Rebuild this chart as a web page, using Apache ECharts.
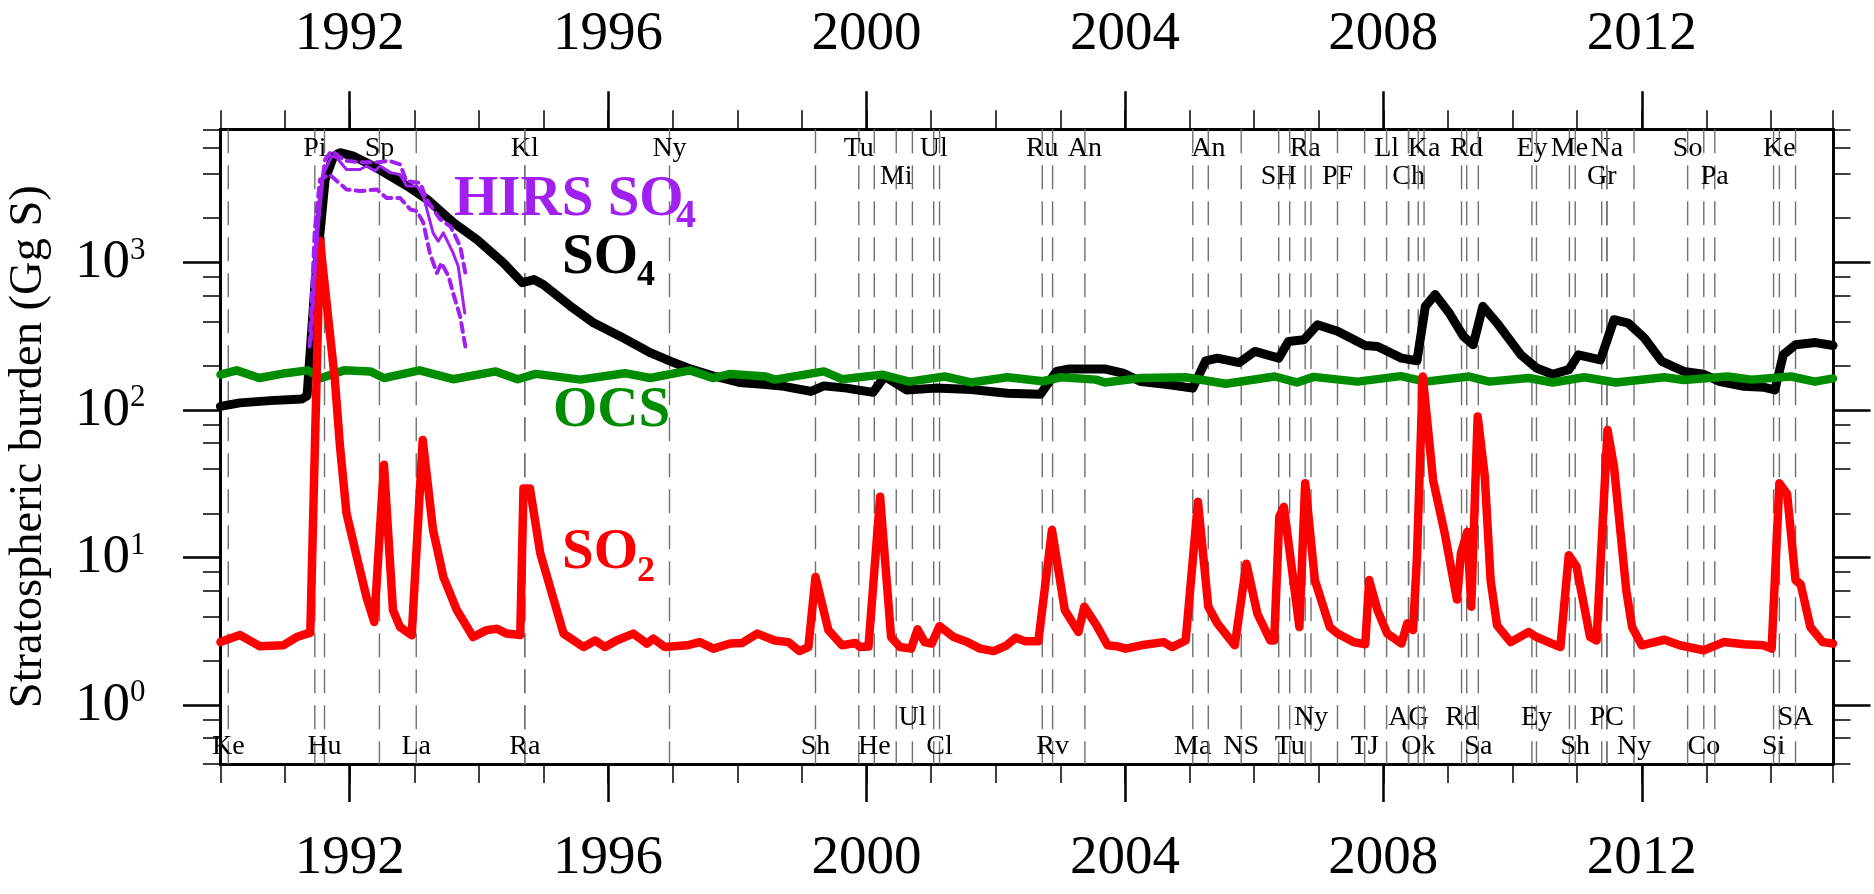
<!DOCTYPE html>
<html>
<head>
<meta charset="utf-8">
<script src="https://cdn.jsdelivr.net/npm/echarts@6/dist/echarts.min.js"></script>
<style>
  html, body { margin: 0; padding: 0; background: #fff; }
  #chart { width: 1874px; height: 894px; }
</style>
</head>
<body>
<div id="chart"></div>
<script>
// ---- Stratospheric sulfur burdens (Gg S), decimal year vs value ----
const so4Year = [1990.00, 1990.30, 1990.77, 1991.26, 1991.34, 1991.46, 1991.54, 1991.62, 1991.75, 1991.85,
  1992.06, 1992.37, 1992.89, 1993.20, 1993.61, 1993.97, 1994.38, 1994.67, 1994.85, 1995.00,
  1995.42, 1995.78, 1996.19, 1996.66, 1996.97, 1997.23, 1997.62, 1998.03, 1998.44, 1998.72,
  1999.14, 1999.34, 1999.69, 2000.10, 2000.28, 2000.62, 2001.07, 2001.62, 2002.18, 2002.69,
  2002.94, 2003.14, 2003.70, 2003.97, 2004.25, 2004.66, 2005.05, 2005.25, 2005.43, 2005.77,
  2006.01, 2006.38, 2006.53, 2006.77, 2006.98, 2007.29, 2007.72, 2007.91, 2008.28, 2008.52,
  2008.65, 2008.80, 2009.02, 2009.24, 2009.39, 2009.54, 2009.76, 2010.13, 2010.37, 2010.62,
  2010.87, 2011.02, 2011.36, 2011.57, 2011.79, 2012.04, 2012.31, 2012.65, 2012.96, 2013.21,
  2013.58, 2013.88, 2014.06, 2014.19, 2014.38, 2014.69, 2014.96];
const so4Val = [106, 112, 116, 119, 125, 690, 1590, 3660, 5260, 5550,
  5260, 4500, 3300, 2680, 1860, 1430, 995, 730, 767, 708,
  505, 389, 316, 244, 214, 193, 171, 154, 149, 145,
  134, 146, 141, 132, 169, 137, 141, 138, 130, 128,
  183, 190, 190, 178, 156, 149, 141, 216, 225, 210,
  250, 225, 292, 300, 379, 342, 274, 270, 225, 216,
  505, 607, 455, 316, 277, 505, 389, 237, 193, 175,
  188, 237, 219, 410, 389, 308, 214, 183, 175, 156,
  145, 143, 137, 237, 277, 287, 274];

const ocsYear = [1990.00, 1990.25, 1990.60, 1991.01, 1991.35, 1991.56, 1991.91, 1992.32, 1992.53, 1993.08,
  1993.60, 1994.26, 1994.60, 1994.88, 1995.57, 1996.26, 1996.65, 1997.27, 1997.62, 1997.89,
  1998.44, 1998.58, 1999.34, 1999.62, 2000.24, 2000.66, 2001.21, 2001.62, 2002.18, 2002.73,
  2003.01, 2003.55, 2003.69, 2004.25, 2004.94, 2005.56, 2006.32, 2006.66, 2006.92, 2007.60,
  2008.27, 2008.65, 2009.33, 2009.64, 2010.25, 2010.62, 2011.11, 2011.60, 2012.35, 2012.65,
  2013.33, 2013.70, 2014.31, 2014.68, 2014.96];
const ocsVal = [174, 186, 165, 178, 186, 165, 186, 183, 165, 186,
  162, 183, 162, 176, 161, 178, 165, 186, 165, 176,
  169, 161, 183, 162, 174, 156, 169, 154, 167, 157,
  167, 161, 154, 165, 167, 151, 169, 154, 168, 156,
  170, 156, 169, 156, 165, 154, 167, 154, 167, 160,
  169, 161, 169, 156, 164];

const so2Year = [1990.00, 1990.30, 1990.61, 1990.97, 1991.18, 1991.34, 1991.39, 1991.54, 1991.77, 1991.85,
  1991.95, 1992.11, 1992.26, 1992.38, 1992.53, 1992.67, 1992.78, 1992.96, 1993.13, 1993.29,
  1993.45, 1993.66, 1993.91, 1994.12, 1994.28, 1994.43, 1994.64, 1994.69, 1994.79, 1994.95,
  1995.31, 1995.62, 1995.80, 1995.95, 1996.13, 1996.39, 1996.60, 1996.70, 1996.88, 1997.22,
  1997.42, 1997.63, 1997.89, 1998.07, 1998.31, 1998.58, 1998.79, 1998.96, 1999.10, 1999.21,
  1999.41, 1999.62, 1999.83, 1999.90, 2000.03, 2000.21, 2000.38, 2000.52, 2000.69, 2000.79,
  2000.90, 2001.01, 2001.13, 2001.35, 2001.56, 2001.76, 2001.97, 2002.17, 2002.31, 2002.45,
  2002.66, 2002.87, 2003.07, 2003.28, 2003.37, 2003.56, 2003.73, 2003.90, 2004.01, 2004.25,
  2004.60, 2004.73, 2004.94, 2005.13, 2005.29, 2005.43, 2005.70, 2005.88, 2006.05, 2006.25,
  2006.31, 2006.39, 2006.46, 2006.70, 2006.79, 2006.94, 2007.17, 2007.29, 2007.54, 2007.72,
  2007.78, 2007.91, 2008.06, 2008.28, 2008.37, 2008.46, 2008.52, 2008.61, 2008.77, 2008.95,
  2009.14, 2009.20, 2009.30, 2009.36, 2009.46, 2009.57, 2009.66, 2009.76, 2009.97, 2010.25,
  2010.37, 2010.74, 2010.87, 2010.99, 2011.20, 2011.30, 2011.47, 2011.57, 2011.76, 2011.85,
  2012.00, 2012.10, 2012.35, 2012.59, 2012.96, 2013.27, 2013.58, 2013.88, 2014.01, 2014.13,
  2014.25, 2014.38, 2014.46, 2014.61, 2014.80, 2014.96];
const so2Val = [2.68, 2.99, 2.51, 2.55, 2.9, 3.06, 3.1, 1400, 161, 56.6,
  20, 10.1, 5.4, 3.67, 42.6, 4.41, 3.39, 2.98, 62.8, 15.4,
  7.4, 4.4, 2.9, 3.23, 3.3, 3.06, 2.99, 29.5, 29.5, 10.7,
  3.06, 2.48, 2.75, 2.48, 2.75, 3.06, 2.62, 2.83, 2.48, 2.55,
  2.68, 2.42, 2.62, 2.64, 3.06, 2.75, 2.68, 2.33, 2.48, 7.4,
  3.23, 2.55, 2.64, 2.48, 2.5, 25.9, 2.9, 2.48, 2.42, 3.27,
  2.68, 2.62, 3.44, 2.9, 2.68, 2.42, 2.33, 2.55, 2.87, 2.72,
  2.72, 15.4, 4.4, 3.14, 4.66, 3.48, 2.55, 2.5, 2.42, 2.55,
  2.68, 2.48, 2.75, 23.9, 4.66, 3.59, 2.55, 9.1, 4.17, 2.75,
  2.75, 19, 22.1, 3.39, 32, 7.05, 3.39, 3.06, 2.68, 2.59,
  7.05, 4.4, 3.06, 2.62, 3.59, 3.23, 10.1, 169, 33.6, 14.6,
  5.2, 10.7, 15, 4.66, 90.6, 35.5, 7.05, 3.48, 2.68, 3.14,
  2.9, 2.48, 10.4, 8.7, 2.9, 2.75, 73.5, 41.4, 6.0, 3.39,
  2.55, 2.62, 2.78, 2.55, 2.36, 2.68, 2.59, 2.55, 2.42, 32,
  27, 7.05, 6.6, 3.39, 2.68, 2.62];

// HIRS satellite sulfate estimate (central) and its upper / lower bounds
const hirsYear = [1991.40, 1991.51, 1991.59, 1991.72, 1991.80, 1991.95, 1992.16, 1992.26, 1992.39, 1992.47,
  1992.62, 1992.78, 1992.88, 1993.04, 1993.14, 1993.29, 1993.37, 1993.45, 1993.60, 1993.68, 1993.78];
const hirsVal = [361, 1675, 3950, 5270, 5130, 4270, 4270, 4510, 4170, 4510,
  4070, 3950, 3300, 3300, 2820, 1590, 1395, 1590, 1162, 944, 456];
const hirsHiYear = [1991.40, 1991.50, 1991.62, 1991.72, 1991.93, 1992.19, 1992.45, 1992.60, 1992.78, 1992.88,
  1993.09, 1993.19, 1993.40, 1993.56, 1993.71, 1993.79];
const hirsHiVal = [300, 2000, 5000, 5710, 4900, 4780, 4780, 4900, 4620, 3560,
  3470, 2680, 1960, 1760, 1290, 850];
const hirsLoYear = [1991.38, 1991.46, 1991.54, 1991.69, 1991.95, 1992.16, 1992.42, 1992.57, 1992.78, 1992.94,
  1993.04, 1993.14, 1993.24, 1993.35, 1993.42, 1993.53, 1993.60, 1993.71, 1993.79];
const hirsLoVal = [270, 1675, 3660, 3950, 3130, 3050, 3130, 2740, 2740, 2290,
  2230, 1860, 1160, 850, 995, 807, 622, 431, 270];

// ---- Volcanic eruptions: date, short name, label row ----
const eruptionYear = [1990.12, 1991.46, 1991.61, 1992.46, 1993.03, 1994.71, 1994.71, 1996.95, 1999.21, 1999.88,
  2000.12, 2000.46, 2000.71, 2001.04, 2001.13, 2002.72, 2002.88, 2003.38, 2005.05, 2005.29,
  2005.80, 2006.38, 2006.55, 2006.79, 2006.88, 2007.29, 2007.71, 2008.05, 2008.39, 2008.39,
  2008.54, 2008.63, 2009.21, 2009.29, 2009.47, 2010.30, 2010.37, 2010.88, 2010.97, 2011.38,
  2011.46, 2011.46, 2011.88, 2012.71, 2012.96, 2013.13, 2014.04, 2014.13, 2014.38];
const eruptionName = ['Ke', 'Pi', 'Hu', 'Sp', 'La', 'Kl', 'Ra', 'Ny', 'Sh', 'Tu',
  'He', 'Mi', 'Ul', 'Ul', 'Cl', 'Ru', 'Rv', 'An', 'Ma', 'An',
  'NS', 'SH', 'Tu', 'Ra', 'Ny', 'PF', 'TJ', 'Ll', 'Ch', 'AG',
  'Ok', 'Ka', 'Rd', 'Rd', 'Sa', 'Ey', 'Ey', 'Me', 'Sh', 'Gr',
  'Na', 'PC', 'Ny', 'So', 'Co', 'Pa', 'Si', 'Ke', 'SA'];
// 'top1'/'top2' = first/second row under the top frame, 'bot1'/'bot2' = rows above the bottom frame
const eruptionRow = ['bot2', 'top1', 'bot2', 'top1', 'bot2', 'top1', 'bot2', 'top1', 'bot2', 'top1',
  'bot2', 'top2', 'bot1', 'top1', 'bot2', 'top1', 'bot2', 'top1', 'bot2', 'top1',
  'bot2', 'top2', 'bot2', 'top1', 'bot1', 'top2', 'bot2', 'top1', 'top2', 'bot1',
  'bot2', 'top1', 'bot1', 'top1', 'bot2', 'top1', 'bot1', 'top1', 'bot2', 'top2',
  'top1', 'bot1', 'bot2', 'top1', 'bot2', 'top2', 'bot2', 'top1', 'bot1'];

// ---- Axis ticks ----
const xLabelYears = [1992, 1996, 2000, 2004, 2008, 2012];
const yLabelExponents = [0, 1, 2, 3];
const yMinorMantissas = [2, 4, 6, 8];
const yLow = 0.4, yHigh = 8000;
const xFirst = 1990, xLast = 2014.96;

// ---- Build the chart ----
const SERIF = '"Liberation Serif", "Times New Roman", serif';
const lg = Math.log10;
const pairs = (xs, vs) => xs.map((x, i) => [x, lg(vs[i])]);

const yMin = lg(yLow), yMax = lg(yHigh);
const yMajor = yLabelExponents.slice();
const yMinor = [];
for (let n = -1; n <= 3; n++) {
  yMinorMantissas.forEach(m => {
    const v = lg(m) + n;
    if (v >= yMin - 1e-9 && v <= yMax + 1e-9) yMinor.push(Math.min(Math.max(v, yMin), yMax));
  });
}

const frameLine = { show: true, onZero: false, lineStyle: { color: '#000', width: 3 } };
const xBase = { type: 'value', min: xFirst, max: xLast, splitLine: { show: false }, axisLine: frameLine };
const yBase = { type: 'value', min: yMin, max: yMax, splitLine: { show: false }, axisLine: frameLine };
const yearLabel = {
  customValues: xLabelYears, margin: 67, fontSize: 55, lineHeight: 55,
  fontFamily: SERIF, color: '#000', formatter: v => String(Math.round(v))
};
const minorTickX = { show: true, length: 19, lineStyle: { color: '#000', width: 1.5 } };
const majorTickX = { show: true, customValues: xLabelYears, length: 38, lineStyle: { color: '#000', width: 2.5 } };
const majorTickY = { show: true, customValues: yMajor, length: 37.5, lineStyle: { color: '#000', width: 2.5 } };
const minorTickY = { show: true, customValues: yMinor, length: 17.5, lineStyle: { color: '#000', width: 1.5 } };

const rowOffset = { top1: 19, top2: 47, bot1: -46, bot2: -17.5 };

const lineSeries = (name, xs, vs, color, width, z, dash) => ({
  name, type: 'line', data: pairs(xs, vs), xAxisIndex: 0, yAxisIndex: 0,
  symbol: 'none', showSymbol: false, z, silent: true,
  lineStyle: { color, width, type: dash || 'solid', cap: 'round', join: 'round' }
});

const chart = echarts.init(document.getElementById('chart'), null, { renderer: 'canvas' });
chart.setOption({
  animation: false,
  backgroundColor: '#fff',
  grid: { left: 220.5, right: 41, top: 129.3, bottom: 130, containLabel: false, outerBoundsMode: 'none' },
  xAxis: [
    Object.assign({}, xBase, { position: 'bottom', interval: 1, axisTick: minorTickX, axisLabel: yearLabel }),
    Object.assign({}, xBase, { position: 'bottom', axisTick: majorTickX, axisLabel: { show: false } }),
    Object.assign({}, xBase, { position: 'top', interval: 1, axisTick: minorTickX, axisLabel: yearLabel }),
    Object.assign({}, xBase, { position: 'top', axisTick: majorTickX, axisLabel: { show: false } })
  ],
  yAxis: [
    Object.assign({}, yBase, {
      position: 'left', axisTick: majorTickY,
      name: 'Stratospheric burden (Gg S)', nameLocation: 'middle', nameRotate: 90, nameGap: 168,
      nameTextStyle: { fontFamily: SERIF, fontSize: 46.5, color: '#000' },
      axisLabel: {
        customValues: yMajor, margin: 75,
        formatter: v => '{b|10}{e|' + Math.round(v) + '}',
        rich: {
          b: { fontFamily: SERIF, fontSize: 55, lineHeight: 55, color: '#000', verticalAlign: 'bottom' },
          e: { fontFamily: SERIF, fontSize: 31, lineHeight: 38, color: '#000', verticalAlign: 'top' }
        }
      }
    }),
    Object.assign({}, yBase, { position: 'left', axisTick: minorTickY, axisLabel: { show: false } }),
    Object.assign({}, yBase, { position: 'right', axisTick: majorTickY, axisLabel: { show: false } }),
    Object.assign({}, yBase, { position: 'right', axisTick: minorTickY, axisLabel: { show: false } })
  ],
  series: [
    {
      type: 'custom', name: 'eruptions', coordinateSystem: 'cartesian2d', xAxisIndex: 0, yAxisIndex: 0,
      data: eruptionYear.map(y => [y, 0]), encode: { x: 0, y: 1 }, z: 1, silent: true, clip: false,
      renderItem: (params, api) => {
        const i = params.dataIndex;
        const cs = params.coordSys;
        const x = api.coord([api.value(0), 0])[0];
        const top = cs.y, bottom = cs.y + cs.height;
        const row = eruptionRow[i];
        const ty = (row.startsWith('top') ? top : bottom) + rowOffset[row];
        return {
          type: 'group',
          children: [
            { type: 'line', shape: { x1: x, y1: top, x2: x, y2: bottom },
              style: { stroke: '#707070', lineWidth: 1.4, lineDash: [24, 12] } },
            { type: 'text', x: x, y: ty,
              style: { text: eruptionName[i], fill: '#000', font: '28px ' + SERIF, align: 'center', verticalAlign: 'middle' } }
          ]
        };
      }
    },
    lineSeries('SO4', so4Year, so4Val, '#000000', 9, 2),
    lineSeries('OCS', ocsYear, ocsVal, '#008c00', 8.5, 3),
    lineSeries('SO2', so2Year, so2Val, '#ff0000', 8.5, 4),
    lineSeries('HIRS SO4', hirsYear, hirsVal, '#a020f0', 3, 5),
    lineSeries('HIRS SO4 upper', hirsHiYear, hirsHiVal, '#a020f0', 4, 5, [9, 6]),
    lineSeries('HIRS SO4 lower', hirsLoYear, hirsLoVal, '#a020f0', 4, 5, [9, 6])
  ],
  graphic: [
    { type: 'text', x: 454, y: 200, z: 10, style: { text: 'HIRS SO', fill: '#a020f0', font: 'bold 57px ' + SERIF, align: 'left', verticalAlign: 'middle' } },
    { type: 'text', x: 676, y: 217, z: 10, style: { text: '4', fill: '#a020f0', font: 'bold 40px ' + SERIF, align: 'left', verticalAlign: 'middle' } },
    { type: 'text', x: 562, y: 258, z: 10, style: { text: 'SO', fill: '#000', font: 'bold 57px ' + SERIF, align: 'left', verticalAlign: 'middle' } },
    { type: 'text', x: 637, y: 276, z: 10, style: { text: '4', fill: '#000', font: 'bold 36px ' + SERIF, align: 'left', verticalAlign: 'middle' } },
    { type: 'text', x: 553, y: 411, z: 10, style: { text: 'OCS', fill: '#008c00', font: 'bold 57px ' + SERIF, align: 'left', verticalAlign: 'middle' } },
    { type: 'text', x: 562, y: 553, z: 10, style: { text: 'SO', fill: '#ff0000', font: 'bold 57px ' + SERIF, align: 'left', verticalAlign: 'middle' } },
    { type: 'text', x: 637, y: 572, z: 10, style: { text: '2', fill: '#ff0000', font: 'bold 36px ' + SERIF, align: 'left', verticalAlign: 'middle' } }
  ]
});
</script>
</body>
</html>
